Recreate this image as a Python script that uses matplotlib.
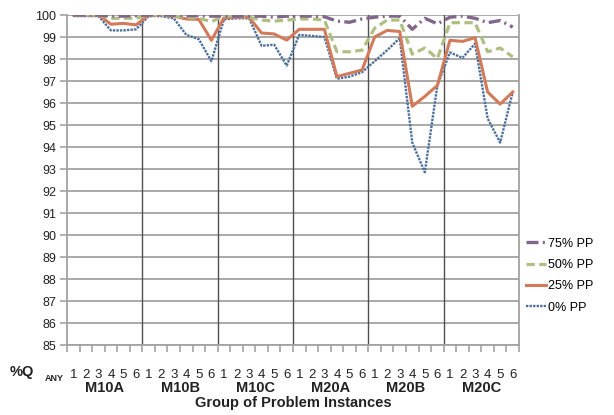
import matplotlib
matplotlib.use('Agg')
import matplotlib.pyplot as plt
import matplotlib.transforms as mtransforms

plt.rcParams['font.family'] = ['Liberation Sans', 'DejaVu Sans']

groups = ['M10A', 'M10B', 'M10C', 'M20A', 'M20B', 'M20C']
instances = ['1', '2', '3', '4', '5', '6']

pp0 = [99.95, 99.95, 99.95, 99.3, 99.3, 99.35,
       99.95, 99.95, 99.85, 99.1, 98.9, 97.9,
       99.8, 99.85, 99.85, 98.6, 98.65, 97.7,
       99.1, 99.05, 99.0, 97.1, 97.2, 97.4,
       97.9, 98.4, 98.95, 94.2, 92.85, 96.8,
       98.3, 98.05, 98.7, 95.3, 94.2, 96.5]
pp25 = [100, 100, 100, 99.58, 99.62, 99.55,
        100, 100, 99.95, 99.82, 99.8, 98.85,
        99.87, 99.9, 99.9, 99.18, 99.14, 98.86,
        99.35, 99.35, 99.35, 97.2, 97.35, 97.5,
        99.0, 99.3, 99.25, 95.85, 96.3, 96.8,
        98.85, 98.8, 98.97, 96.5, 95.95, 96.5]
pp50 = [100, 100, 100, 99.85, 99.85, 99.85,
        100, 100, 99.95, 99.9, 99.85, 99.7,
        99.95, 99.95, 99.9, 99.77, 99.72, 99.77,
        99.82, 99.82, 99.77, 98.33, 98.33, 98.4,
        99.4, 99.77, 99.77, 98.22, 98.5, 98.02,
        99.65, 99.65, 99.65, 98.33, 98.5, 98.1]
pp75 = [100, 100, 100, 99.95, 99.95, 99.97,
        100, 100, 100, 99.97, 99.97, 99.95,
        99.95, 99.95, 99.95, 99.95, 99.9, 99.95,
        99.95, 99.95, 99.92, 99.72, 99.67, 99.82,
        99.9, 99.95, 99.95, 99.35, 99.85, 99.6,
        99.9, 99.95, 99.85, 99.65, 99.75, 99.45]

n = len(groups) * len(instances)
x = list(range(n))

fig = plt.figure(figsize=(6.14, 4.15), dpi=100)
ax = fig.add_axes([67/614, 70/415, 452/614, 330/415])

# series
ax.plot(x, pp0, color='#4a6f9e', lw=1.7, ls=(0, (1, 0.5)), label='0% PP', zorder=3)
ax.plot(x, pp25, color='#d27a5a', lw=2.2, ls='-', label='25% PP', zorder=4)
ax.plot(x, pp50, color='#afbf82', lw=2.3, ls=(0, (2.6, 1.4)), label='50% PP', zorder=5)
ax.plot(x, pp75, color='#82658a', lw=2.4, ls=(0, (3.6, 1.3, 0.6, 1.3)), label='75% PP', zorder=6)

ax.set_ylim(85, 100)
ax.set_xlim(-0.5, n - 0.5)
ax.set_yticks(range(85, 101))
ax.yaxis.grid(True, color='#a3a3a3', lw=1.3)
ax.set_axisbelow(True)

# group separators
for g in range(1, len(groups)):
    ax.axvline(g * 6 - 0.5, color='#505050', lw=1.0, zorder=2)

ax.set_xticks(x)
ax.set_xticklabels(instances * len(groups))
ax.set_xticks([i - 0.5 for i in range(n + 1)], minor=True)
ax.tick_params(axis='x', which='major', length=0, pad=17, labelsize=9.5, colors='#222222')
ax.tick_params(axis='x', which='minor', length=5, color='#a3a3a3', width=1.2)
ax.tick_params(axis='y', length=5, color='#a3a3a3', width=1.2, labelsize=9, pad=3, colors='#222222')
ax.tick_params(axis='y', colors='#a3a3a3', labelcolor='#222222')

for s in ['left', 'right', 'bottom']:
    ax.spines[s].set_color('#a3a3a3')
    ax.spines[s].set_linewidth(1.3)
ax.spines['top'].set_visible(False)

trans = mtransforms.blended_transform_factory(ax.transData, fig.transFigure)
for i, g in enumerate(groups):
    ax.text(i * 6 + 2.5, (415 - 388) / 415, g, transform=trans, ha='center', va='center',
            fontsize=10.5, fontweight='bold', color='#222222')

fig.text((67 + 452 / 2) / 614, (415 - 403) / 415, 'Group of Problem Instances',
         ha='center', va='center', fontsize=10.5, fontweight='bold', color='#222222')
fig.text(10 / 614, (415 - 372) / 415, '%Q', ha='left', va='center',
         fontsize=10.5, fontweight='bold', color='#222222')
fig.text(45 / 614, (415 - 378) / 415, 'ANY', ha='left', va='center',
         fontsize=6.5, fontweight='bold', color='#222222')

h, l = ax.get_legend_handles_labels()
ax.legend(h[::-1], l[::-1], loc='center left', bbox_to_anchor=(1.015, 0.21),
          frameon=False, fontsize=9, handlelength=1.6, handletextpad=0.2,
          labelspacing=0.75, borderaxespad=0, borderpad=0)

fig.savefig('out.png', dpi=100)
